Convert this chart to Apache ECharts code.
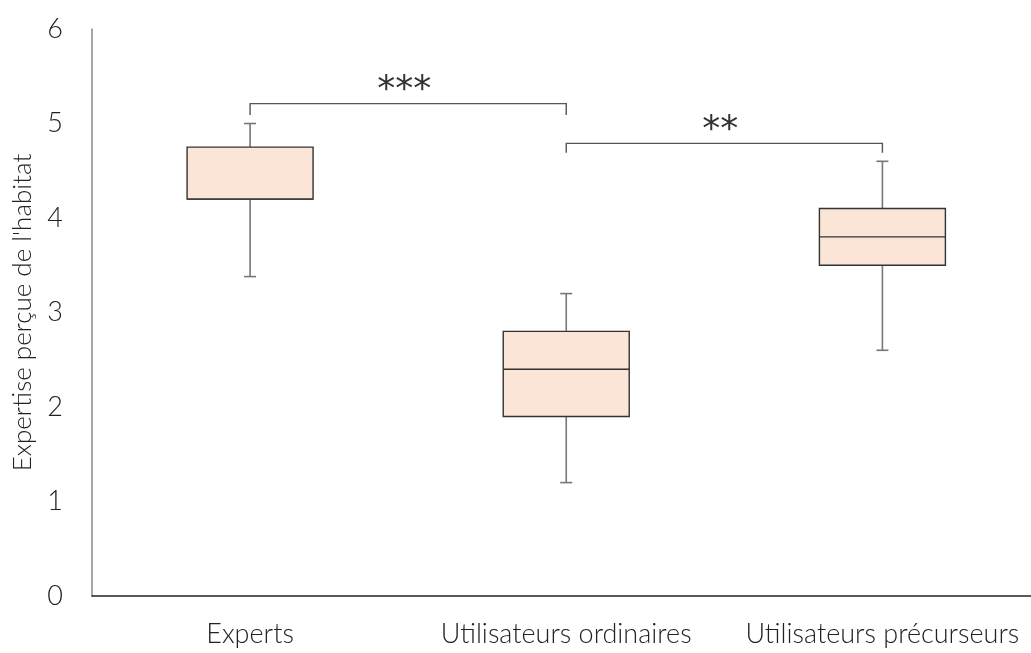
<!DOCTYPE html>
<html>
<head>
<meta charset="utf-8">
<script src="https://cdn.jsdelivr.net/npm/echarts@6/dist/echarts.min.js"></script>
<style>
  html, body { margin: 0; padding: 0; background: #ffffff; }
  #chart { width: 1031px; height: 653px; }
</style>
</head>
<body>
<div id="chart"></div>
<script>
// Perceived housing expertise by group (scale 0-6)
const categories = ['Experts', 'Utilisateurs ordinaires', 'Utilisateurs précurseurs'];
const whiskerLow = [3.38, 1.2, 2.6];
const q1 = [4.2, 1.9, 3.5];
const median = [4.2, 2.4, 3.8];
const q3 = [4.75, 2.8, 4.1];
const whiskerHigh = [5.0, 3.2, 4.6];
const yTicks = [0, 1, 2, 3, 4, 5, 6];

// Significance brackets: from group, to group, bar level, leg end level, stars
const bracketFrom = [0, 1];
const bracketTo = [1, 2];
const bracketTop = [5.21, 4.79];
const bracketLeg = [5.09, 4.69];
const bracketStars = ['***', '**'];

const FONT = 'Lato';
const groupIndex = categories.map((c, i) => i);
const boxRows = categories.map((c, i) => [i, whiskerLow[i], q1[i], median[i], q3[i], whiskerHigh[i]]);
const bracketRows = bracketFrom.map((f, i) => [f, bracketTo[i], bracketTop[i], bracketLeg[i], bracketStars[i]]);

function renderBox(params, api) {
  const i = api.value(0);
  const low = api.coord([i, api.value(1)]);
  const b1 = api.coord([i, api.value(2)]);
  const med = api.coord([i, api.value(3)]);
  const b3 = api.coord([i, api.value(4)]);
  const high = api.coord([i, api.value(5)]);
  const x = low[0];
  const hw = 63;
  const cap = 6;
  const whisker = { stroke: '#777777', lineWidth: 1.6 };
  const edge = { stroke: '#333333', lineWidth: 1.4 };
  return {
    type: 'group',
    children: [
      { type: 'line', shape: { x1: x, y1: high[1], x2: x, y2: b3[1] }, style: whisker },
      { type: 'line', shape: { x1: x - cap, y1: high[1], x2: x + cap, y2: high[1] }, style: whisker },
      { type: 'line', shape: { x1: x, y1: b1[1], x2: x, y2: low[1] }, style: whisker },
      { type: 'line', shape: { x1: x - cap, y1: low[1], x2: x + cap, y2: low[1] }, style: whisker },
      { type: 'rect', shape: { x: x - hw, y: b3[1], width: hw * 2, height: b1[1] - b3[1] },
        style: { fill: '#FBE5D6', stroke: '#333333', lineWidth: 1.4 } },
      { type: 'line', shape: { x1: x - hw, y1: med[1], x2: x + hw, y2: med[1] }, style: edge }
    ]
  };
}

function renderBracket(params, api) {
  const a = api.coord([api.value(0), api.value(2)]);
  const b = api.coord([api.value(1), api.value(2)]);
  const aLeg = api.coord([api.value(0), api.value(3)]);
  const bLeg = api.coord([api.value(1), api.value(3)]);
  const stroke = { stroke: '#555555', lineWidth: 1.4, fill: null };
  return {
    type: 'group',
    children: [
      { type: 'polyline', shape: { points: [[aLeg[0], aLeg[1]], [a[0], a[1]], [b[0], b[1]], [bLeg[0], bLeg[1]]] }, style: stroke },
      { type: 'text', x: (a[0] + b[0]) / 2 - 4, y: a[1] + 5,
        style: { text: api.value(4), font: '36px "DejaVu Sans"', fill: '#333333', align: 'center', verticalAlign: 'bottom' } }
    ]
  };
}

const chart = echarts.init(document.getElementById('chart'), null, { renderer: 'canvas' });
chart.setOption({
  animation: false,
  backgroundColor: '#ffffff',
  grid: { left: 92, top: 29, right: 0, bottom: 57, containLabel: false },
  // Group axis: one unit per group, cut short at the right edge of the canvas
  xAxis: {
    type: 'value',
    min: -0.5,
    max: 2.47,
    axisLine: { show: true, onZero: false, lineStyle: { color: '#222222', width: 1.5 } },
    axisTick: { show: false },
    splitLine: { show: false },
    axisLabel: {
      customValues: groupIndex,
      formatter: (v) => categories[Math.round(v)],
      margin: 25, fontFamily: FONT, fontWeight: 300, fontSize: 27, color: '#222222'
    }
  },
  yAxis: {
    type: 'value',
    min: yTicks[0],
    max: yTicks[yTicks.length - 1],
    interval: 1,
    name: "Expertise perçue de l'habitat",
    nameLocation: 'middle',
    nameGap: 56,
    nameTextStyle: { fontFamily: FONT, fontWeight: 300, fontSize: 26, color: '#222222' },
    axisLine: { show: true, onZero: false, lineStyle: { color: '#888888', width: 1.5 } },
    axisTick: { show: false },
    splitLine: { show: false },
    axisLabel: { margin: 29, fontFamily: FONT, fontWeight: 300, fontSize: 27, color: '#222222' }
  },
  series: [
    { type: 'custom', name: 'boxes', data: boxRows, renderItem: renderBox, encode: { x: 0, y: [1, 2, 3, 4, 5] }, clip: false },
    { type: 'custom', name: 'brackets', data: bracketRows, renderItem: renderBracket, encode: { x: [0, 1], y: [2, 3] }, clip: false }
  ]
});
</script>
</body>
</html>
